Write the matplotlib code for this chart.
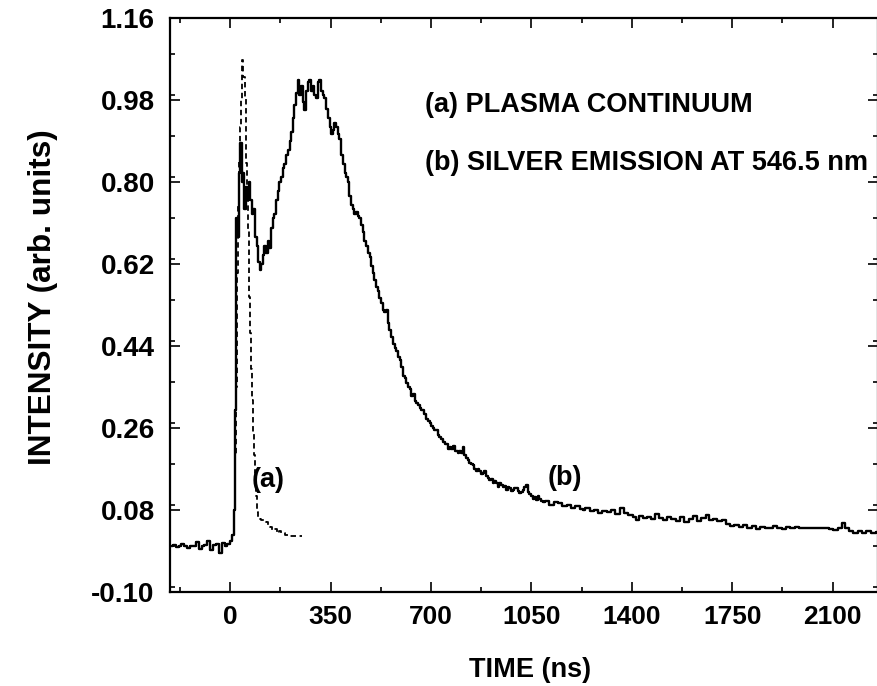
import numpy as np
import matplotlib
matplotlib.use("Agg")
import matplotlib.pyplot as plt
from matplotlib.ticker import MultipleLocator, FixedLocator

# --- data (time in ns, intensity in arb. units) ---
baseline_t = [-205, -195, -185, -175, -165, -155, -145, -135, -125, -115, -105, -95,
              -85, -75, -65, -55, -45, -35, -25, -15, -5, 5, 10, 14]
baseline_v = [0.0, 0.003, -0.002, 0.0, 0.006, 0.0, -0.004, 0.002, 0.0, 0.01, -0.006, 0.0,
              0.004, 0.012, -0.008, 0.003, 0.006, -0.015, 0.008, 0.0, 0.006, 0.012, 0.025, 0.08]

silver_t = [17, 20, 23, 28, 33, 38, 42, 47, 52, 57, 62, 67, 72, 78, 84, 90, 96, 100, 105,
            110, 116, 122, 128, 134, 139, 145, 150, 156, 162, 168, 174, 180, 186, 192, 198,
            204, 210, 215, 220, 226, 232, 238, 244, 250, 256, 261, 267, 273, 279, 285, 291,
            296, 302, 308, 314, 320, 325, 331, 337, 343, 349, 355, 360, 366, 372, 378, 383,
            390, 396, 402, 408, 412, 418, 424, 430, 436, 441, 447, 453, 459, 465, 471, 477,
            483, 488, 494, 500, 505, 511, 517, 523, 529, 534, 540, 546, 552, 558, 564, 570,
            576, 582, 588, 593, 599, 605, 611, 616, 622, 628, 634, 640, 645, 651, 657, 663,
            668, 674, 680, 686, 692, 698, 703, 709, 715, 720, 726, 732, 738, 744, 750, 756,
            762, 767, 773, 779, 785, 790, 796, 802, 808, 813, 819, 825, 831, 837, 843, 848,
            854, 860, 866, 871, 877, 882, 888, 894, 900, 906, 912, 918, 924, 929, 935, 941,
            947, 953, 958, 964, 970, 976, 982, 987, 993, 999, 1005, 1011, 1016, 1022, 1028,
            1034, 1040, 1045, 1051, 1057, 1063, 1069, 1075, 1080, 1086, 1092, 1105, 1120,
            1135, 1150, 1165, 1180, 1195, 1210, 1225, 1231, 1245, 1260, 1275, 1290, 1305,
            1320, 1335, 1350, 1365, 1380, 1395, 1410, 1418, 1430, 1445, 1460, 1475, 1487,
            1500, 1515, 1530, 1545, 1560, 1575, 1590, 1605, 1620, 1635, 1650, 1665, 1673,
            1690, 1705, 1720, 1735, 1750, 1765, 1780, 1795, 1810, 1825, 1840, 1855, 1871,
            1885, 1900, 1915, 1930, 1945, 1960, 1975, 1990, 2005, 2020, 2035, 2050, 2065,
            2080, 2095, 2110, 2125, 2138, 2150, 2165, 2180, 2195, 2210, 2225, 2240, 2265]
silver_v = [0.30, 0.475, 0.72, 0.68, 0.82, 0.886, 0.80, 0.82, 0.74, 0.79, 0.76, 0.80, 0.76,
            0.73, 0.74, 0.68, 0.66, 0.625, 0.607, 0.62, 0.64, 0.66, 0.645, 0.67, 0.655, 0.70,
            0.72, 0.73, 0.76, 0.78, 0.80, 0.81, 0.83, 0.84, 0.86, 0.87, 0.89, 0.91, 0.94,
            0.97, 0.995, 1.024, 0.99, 1.01, 0.975, 0.958, 1.0, 1.02, 1.024, 1.0, 1.01, 0.99,
            0.985, 1.02, 1.024, 1.0, 0.99, 0.985, 0.96, 0.94, 0.92, 0.905, 0.915, 0.93, 0.92,
            0.905, 0.895, 0.86, 0.84, 0.82, 0.81, 0.80, 0.77, 0.75, 0.74, 0.73, 0.735, 0.725,
            0.72, 0.705, 0.69, 0.67, 0.66, 0.645, 0.635, 0.615, 0.60, 0.585, 0.57, 0.56,
            0.545, 0.535, 0.52, 0.515, 0.52, 0.49, 0.475, 0.46, 0.445, 0.435, 0.43, 0.415,
            0.41, 0.395, 0.375, 0.37, 0.358, 0.35, 0.345, 0.33, 0.335, 0.32, 0.315, 0.31,
            0.305, 0.30, 0.30, 0.29, 0.28, 0.275, 0.27, 0.265, 0.26, 0.255, 0.256, 0.245,
            0.24, 0.235, 0.23, 0.225, 0.225, 0.215, 0.219, 0.215, 0.22, 0.21, 0.21, 0.205,
            0.21, 0.205, 0.218, 0.20, 0.195, 0.19, 0.183, 0.18, 0.178, 0.17, 0.165, 0.17,
            0.165, 0.16, 0.161, 0.165, 0.155, 0.15, 0.145, 0.148, 0.14, 0.143, 0.14, 0.13,
            0.139, 0.135, 0.13, 0.132, 0.125, 0.13, 0.128, 0.122, 0.125, 0.128, 0.128, 0.122,
            0.118, 0.12, 0.125, 0.13, 0.135, 0.12, 0.115, 0.11, 0.105, 0.108, 0.102, 0.11,
            0.105, 0.10, 0.098, 0.10, 0.092, 0.098, 0.095, 0.088, 0.092, 0.085, 0.088, 0.082,
            0.08, 0.085, 0.078, 0.08, 0.073, 0.078, 0.075, 0.08, 0.072, 0.085, 0.074, 0.07,
            0.065, 0.058, 0.066, 0.062, 0.065, 0.06, 0.072, 0.062, 0.058, 0.064, 0.06, 0.056,
            0.065, 0.054, 0.06, 0.066, 0.055, 0.062, 0.07, 0.058, 0.06, 0.055, 0.058, 0.05,
            0.045, 0.046, 0.042, 0.046, 0.04, 0.044, 0.038, 0.042, 0.04, 0.04, 0.044, 0.04,
            0.038, 0.042, 0.04, 0.043, 0.04, 0.04, 0.04, 0.04, 0.04, 0.04, 0.04, 0.038, 0.036,
            0.04, 0.051, 0.04, 0.035, 0.03, 0.034, 0.03, 0.035, 0.03, 0.032]

plasma_t = [17, 20, 24, 28, 32, 36, 40, 44, 48, 52, 55, 58, 61, 64, 67, 70, 73, 76, 80,
            84, 87, 92, 96, 99, 105, 112, 120, 128, 135, 142, 150, 158, 165, 172, 180, 186,
            195, 205, 215, 230, 250]
plasma_v = [0.2, 0.35, 0.6, 0.75, 0.85, 0.92, 0.98, 1.068, 1.03, 0.987, 0.91, 0.842, 0.77,
            0.695, 0.548, 0.468, 0.39, 0.321, 0.25, 0.2, 0.161, 0.11, 0.075, 0.062, 0.06,
            0.058, 0.055, 0.054, 0.048, 0.042, 0.036, 0.038, 0.03, 0.034, 0.029, 0.029,
            0.026, 0.025, 0.023, 0.023, 0.023]

y_ticks = [-0.10, 0.08, 0.26, 0.44, 0.62, 0.80, 0.98, 1.16]
x_ticks = [0, 350, 700, 1050, 1400, 1750, 2100]

plt.rcParams['font.family'] = ['Liberation Sans', 'DejaVu Sans']
plt.rcParams['font.weight'] = 'bold'
plt.rcParams['axes.labelweight'] = 'bold'

fig = plt.figure(figsize=(8.78, 6.86), dpi=100)
ax = fig.add_axes([170 / 878, 1 - 592 / 686, 1 - 170 / 878, (592 - 18) / 686])

t_b = baseline_t + silver_t
v_b = baseline_v + silver_v
t_a = baseline_t + plasma_t
v_a = baseline_v + plasma_v

ax.plot(t_a, v_a, color='black', lw=1.3, linestyle=(0, (3, 2)), drawstyle='steps-mid')
ax.plot(t_b, v_b, color='black', lw=1.7, drawstyle='steps-mid')

ax.set_xlim(-210, 2258)
ax.set_ylim(-0.10, 1.16)
ax.xaxis.set_major_locator(FixedLocator(x_ticks))
ax.xaxis.set_minor_locator(MultipleLocator(175))
ax.yaxis.set_major_locator(FixedLocator(y_ticks))
ax.yaxis.set_minor_locator(MultipleLocator(0.09))
ax.set_yticklabels([f"{v:.2f}" for v in y_ticks])

for s in ax.spines.values():
    s.set_linewidth(1.6)
ax.tick_params(which='both', direction='in', top=True, right=True, width=1.2)
ax.tick_params(which='major', length=7)
ax.tick_params(which='minor', length=3.5)
ax.tick_params(axis='x', labelsize=19, pad=9)
ax.tick_params(axis='y', labelsize=20, pad=11)

ax.set_xlabel("TIME (ns)", fontsize=19.5)
ax.xaxis.set_label_coords(0.508, -0.113)
ax.set_ylabel("INTENSITY (arb. units)", fontsize=22.7)
ax.yaxis.set_label_coords(-0.158, 0.514)

ax.text(680, 0.969, "(a) PLASMA CONTINUUM", fontsize=19.5, va='center', ha='left')
ax.text(680, 0.842, "(b) SILVER EMISSION AT 546.5 nm", fontsize=19.5, va='center', ha='left')
ax.text(132, 0.146, "(a)", fontsize=19.5, va='center', ha='center')
ax.text(1168, 0.15, "(b)", fontsize=19.5, va='center', ha='center')

fig.savefig("out.png", dpi=100)
